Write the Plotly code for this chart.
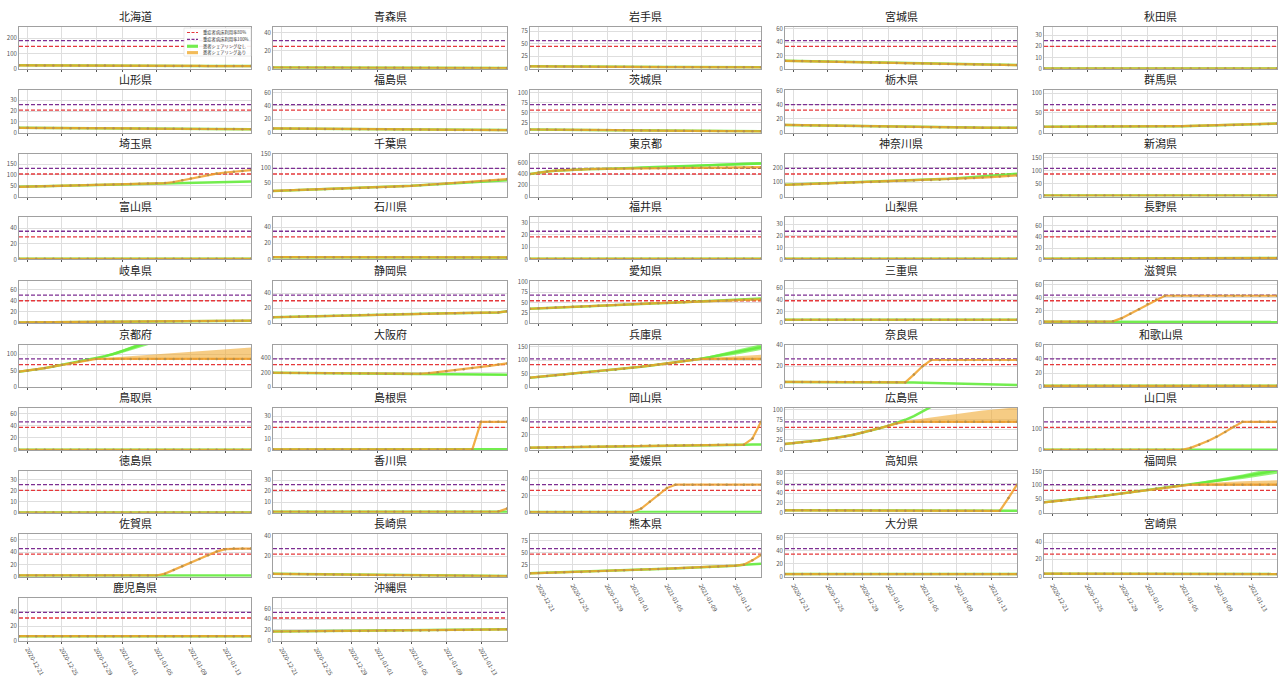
import plotly.graph_objects as go

DATES = ["2020-12-20", "2020-12-21", "2020-12-22", "2020-12-23", "2020-12-24", "2020-12-25",
         "2020-12-26", "2020-12-27", "2020-12-28", "2020-12-29", "2020-12-30", "2020-12-31",
         "2021-01-01", "2021-01-02", "2021-01-03", "2021-01-04", "2021-01-05", "2021-01-06",
         "2021-01-07", "2021-01-08", "2021-01-09", "2021-01-10", "2021-01-11", "2021-01-12",
         "2021-01-13", "2021-01-14", "2021-01-15", "2021-01-16"]
TICK_DATES = ["2020-12-21", "2020-12-25", "2020-12-29", "2021-01-01", "2021-01-05", "2021-01-09", "2021-01-13"]

PREFECTURES = ["北海道", "青森県", "岩手県", "宮城県", "秋田県",
               "山形県", "福島県", "茨城県", "栃木県", "群馬県",
               "埼玉県", "千葉県", "東京都", "神奈川県", "新潟県",
               "富山県", "石川県", "福井県", "山梨県", "長野県",
               "岐阜県", "静岡県", "愛知県", "三重県", "滋賀県",
               "京都府", "大阪府", "兵庫県", "奈良県", "和歌山県",
               "鳥取県", "島根県", "岡山県", "広島県", "山口県",
               "徳島県", "香川県", "愛媛県", "高知県", "福岡県",
               "佐賀県", "長崎県", "熊本県", "大分県", "宮崎県",
               "鹿児島県", "沖縄県"]

# severe-case bed capacity (100% line); the 80% line is 0.8 x this
CAPACITY = [183, 31, 56, 42, 25,
            26, 42, 70, 40, 71,
            130, 100, 500, 197, 109,
            36, 35, 23, 24, 50,
            50, 37.6, 68, 48, 44,
            86, 392, 105, 27, 40,
            46.5, 25, 37, 70, 133,
            25.3, 26, 33, 57, 102,
            46, 27.3, 58.6, 43, 32.5,
            39, 53]

Y_DTICK = [100, 20, 25, 20, 10,
           10, 20, 25, 20, 50,
           50, 50, 200, 100, 50,
           20, 20, 10, 10, 20,
           20, 20, 25, 20, 20,
           50, 200, 50, 20, 20,
           20, 10, 20, 25, 100,
           10, 10, 20, 20, 50,
           20, 20, 25, 20, 20,
           20, 20]

# with bed sharing (orange line with dots)
ORANGE_LINE = {
    "北海道": [23, 23, 22, 22, 22, 22, 21, 21, 21, 21, 21, 20, 20, 20, 20, 20, 19, 19, 19, 19, 19, 19, 18, 18, 18, 18, 18, 18],
    "青森県": [1.5, 1.5, 1.5, 1.5, 1.4, 1.4, 1.4, 1.4, 1.3, 1.3, 1.3, 1.3, 1.2, 1.2, 1.2, 1.2, 1.1, 1.1, 1.1, 1.1, 1.0, 1.0, 1.0, 1.0, 1.0, 0.9, 0.9, 0.9],
    "岩手県": [5, 5, 5, 4.9, 4.8, 4.7, 4.6, 4.5, 4.4, 4.3, 4.2, 4.1, 4, 3.9, 3.8, 3.7, 3.6, 3.5, 3.4, 3.3, 3.2, 3.2, 3.1, 3.1, 3, 3, 3, 3],
    "宮城県": [12, 11.8, 11.6, 11.4, 11.2, 11, 10.7, 10.4, 10.1, 9.8, 9.5, 9.2, 8.9, 8.6, 8.3, 8, 7.8, 7.6, 7.4, 7.2, 7, 6.8, 6.6, 6.4, 6.2, 6, 5.8, 5.6],
    "秋田県": [0.3, 0.3, 0.3, 0.3, 0.3, 0.3, 0.3, 0.3, 0.3, 0.3, 0.3, 0.3, 0.3, 0.3, 0.3, 0.3, 0.3, 0.3, 0.3, 0.3, 0.3, 0.3, 0.3, 0.3, 0.3, 0.3, 0.3, 0.3],
    "山形県": [4.5, 4.5, 4.4, 4.4, 4.3, 4.3, 4.2, 4.2, 4.1, 4.1, 4, 4, 3.9, 3.9, 3.8, 3.8, 3.7, 3.7, 3.6, 3.6, 3.5, 3.5, 3.4, 3.4, 3.3, 3.3, 3.2, 3.2],
    "福島県": [6.3, 6.2, 6.1, 6, 5.9, 5.8, 5.7, 5.6, 5.5, 5.4, 5.3, 5.2, 5.1, 5, 4.9, 4.8, 4.7, 4.6, 4.5, 4.4, 4.3, 4.2, 4.1, 4.1, 4, 4, 3.9, 3.9],
    "茨城県": [8, 8, 7.8, 7.6, 7.4, 7.2, 7, 6.8, 6.6, 6.4, 6.2, 6, 5.8, 5.6, 5.4, 5.2, 5, 4.8, 4.6, 4.4, 4.2, 4, 3.9, 3.8, 3.7, 3.6, 3.5, 3.4],
    "栃木県": [11, 10.8, 10.6, 10.4, 10.2, 10, 9.8, 9.6, 9.4, 9.2, 9, 8.8, 8.6, 8.4, 8.2, 8, 7.9, 7.8, 7.7, 7.6, 7.5, 7.4, 7.3, 7.2, 7.1, 7, 7, 7],
    "群馬県": [15, 15, 15, 15, 15.5, 15.5, 16, 16, 16, 16, 16, 16, 16, 16, 16, 16, 16.5, 17, 17.5, 18, 18.5, 19, 19.5, 20, 21, 21.5, 22, 23],
    "埼玉県": [45, 46, 47, 48, 49, 50, 51, 52, 53, 54, 55, 56, 57, 58, 59, 60, 61, 62, 67, 75, 83, 91, 99, 106, 111, 115, 118, 122],
    "千葉県": [20, 21, 22, 23, 24, 25, 26, 27, 28, 29, 30, 31, 32, 33, 35, 37, 38, 40, 42, 44, 46, 48, 50, 52, 54, 57, 59, 62],
    "東京都": [400, 425, 445, 460, 470, 478, 483, 487, 490, 492, 494, 496, 498, 500, 502, 504, 506, 508, 510, 512, 514, 515, 516, 517, 518, 519, 520, 520],
    "神奈川県": [82, 84, 86, 88, 90, 92, 94, 96, 98, 100, 102, 104, 106, 108, 110, 112, 114, 116, 118, 121, 124, 127, 130, 133, 136, 140, 144, 148],
    "新潟県": [4, 4, 4, 4, 4, 4, 4, 4, 4, 4, 4, 4, 4, 4, 4, 4, 4, 4, 4, 4, 4, 4, 4, 4, 4, 4, 4, 4],
    "富山県": [0.8, 0.8, 0.8, 0.8, 0.8, 0.8, 0.8, 0.8, 0.8, 0.8, 0.8, 0.8, 0.8, 0.8, 0.8, 0.8, 0.8, 0.8, 0.8, 0.8, 0.8, 0.8, 0.8, 0.8, 0.8, 0.8, 0.8, 0.8],
    "石川県": [2.8, 2.8, 2.8, 2.8, 2.8, 2.8, 2.8, 2.7, 2.7, 2.7, 2.7, 2.7, 2.7, 2.7, 2.6, 2.6, 2.6, 2.6, 2.6, 2.6, 2.6, 2.5, 2.5, 2.5, 2.5, 2.5, 2.5, 2.5],
    "福井県": [0.5, 0.5, 0.5, 0.5, 0.5, 0.5, 0.5, 0.5, 0.5, 0.5, 0.5, 0.5, 0.5, 0.5, 0.5, 0.5, 0.5, 0.5, 0.5, 0.5, 0.5, 0.5, 0.5, 0.5, 0.5, 0.5, 0.5, 0.5],
    "山梨県": [0.5, 0.5, 0.5, 0.5, 0.5, 0.5, 0.5, 0.5, 0.5, 0.5, 0.5, 0.5, 0.5, 0.5, 0.5, 0.5, 0.5, 0.5, 0.5, 0.5, 0.5, 0.5, 0.5, 0.5, 0.5, 0.5, 0.5, 0.5],
    "長野県": [1, 1, 1, 1, 1.2, 1.2, 1.2, 1.3, 1.3, 1.4, 1.4, 1.5, 1.5, 1.6, 1.6, 1.7, 1.7, 1.8, 1.8, 1.9, 1.9, 2, 2, 2.1, 2.2, 2.3, 2.4, 2.5],
    "岐阜県": [1.5, 1.6, 1.7, 1.8, 1.9, 2, 2.1, 2.2, 2.3, 2.4, 2.5, 2.6, 2.7, 2.8, 2.9, 3, 3.1, 3.2, 3.3, 3.4, 3.5, 3.6, 3.7, 3.8, 4, 4.1, 4.3, 4.5],
    "静岡県": [8, 8.3, 8.6, 8.9, 9.2, 9.5, 9.8, 10, 10.3, 10.6, 10.9, 11.2, 11.5, 11.7, 12, 12.2, 12.4, 12.6, 12.8, 13, 13.2, 13.4, 13.6, 13.8, 14, 14.2, 14.5, 16],
    "愛知県": [35, 36, 37, 38, 39, 40, 40.5, 41, 42, 43, 44, 45, 46, 47, 48, 48.5, 49, 50, 51, 52, 53, 53.5, 54, 55, 56, 56.5, 57, 57.5],
    "三重県": [6, 6, 6, 6, 6, 6, 6, 6, 6, 6, 6, 6, 6, 6, 6, 6, 6, 6, 6, 6, 6, 6, 6, 6, 6, 6, 6, 6],
    "滋賀県": [2.5, 2.5, 2.5, 2.5, 2.5, 2.5, 2.5, 2.5, 3, 8, 15, 22, 30, 37, 43, 43, 43, 43, 43, 43, 43, 43, 43, 43, 43, 43, 43, 43],
    "京都府": [47, 50, 54, 58, 63, 68, 73, 78, 83, 86, 86, 86, 86, 86, 86, 86, 86, 86, 86, 86, 86, 86, 86, 86, 86, 86, 86, 86],
    "大阪府": [200, 199, 198, 197, 196, 195, 194, 193, 192, 191, 190, 189, 188, 187, 186, 185, 184, 186, 195, 208, 222, 236, 250, 265, 280, 296, 313, 330],
    "兵庫県": [35, 38, 41, 44, 47, 50, 53, 56, 59, 62, 65, 68, 72, 76, 80, 84, 88, 92, 97, 101, 105, 105, 105, 105, 105, 105, 105, 105],
    "奈良県": [5, 5, 5, 5, 5, 5, 5, 5, 5, 5, 4.9, 4.8, 4.7, 4.6, 4.5, 12, 20, 26, 26, 26, 26, 26, 26, 26, 26, 26, 26, 26],
    "和歌山県": [1.8, 1.8, 1.8, 1.8, 1.8, 1.8, 1.8, 1.8, 1.8, 1.8, 1.8, 1.8, 1.8, 1.8, 1.8, 1.8, 1.8, 1.8, 1.8, 1.8, 1.8, 1.8, 1.8, 1.8, 1.8, 1.8, 1.8, 1.8],
    "鳥取県": [0.3, 0.3, 0.3, 0.3, 0.3, 0.3, 0.3, 0.3, 0.3, 0.3, 0.3, 0.3, 0.3, 0.3, 0.3, 0.3, 0.3, 0.3, 0.3, 0.3, 0.3, 0.3, 0.3, 0.3, 0.3, 0.3, 0.3, 0.3],
    "島根県": [0.5, 0.5, 0.5, 0.5, 0.5, 0.5, 0.5, 0.5, 0.5, 0.5, 0.5, 0.5, 0.5, 0.5, 0.5, 0.5, 0.5, 0.5, 0.5, 0.5, 0.5, 0.5, 0.5, 0.5, 25, 25, 25, 25],
    "岡山県": [3, 3.2, 3.4, 3.6, 3.8, 4, 4.2, 4.4, 4.6, 4.8, 5, 5.2, 5.4, 5.6, 5.8, 6, 6.1, 6.2, 6.3, 6.4, 6.5, 6.6, 6.7, 6.8, 6.9, 7, 15, 37],
    "広島県": [15, 17, 19, 21, 24, 27, 30, 34, 38, 43, 48, 54, 60, 66, 70, 70, 70, 70, 70, 70, 70, 70, 70, 70, 70, 70, 70, 70],
    "山口県": [1, 1, 1, 1, 1, 1, 1, 1, 1, 1, 1, 1, 1, 1, 1, 1, 1, 10, 25, 42, 62, 85, 110, 133, 133, 133, 133, 133],
    "徳島県": [0.2, 0.2, 0.2, 0.2, 0.2, 0.2, 0.2, 0.2, 0.2, 0.2, 0.2, 0.2, 0.2, 0.2, 0.2, 0.2, 0.2, 0.2, 0.2, 0.2, 0.2, 0.2, 0.2, 0.2, 0.2, 0.2, 0.2, 0.2],
    "香川県": [1, 1, 1, 1, 1, 1, 1, 1, 1, 1, 1, 1, 1, 1, 1, 1, 1, 1, 1, 1, 1, 1, 1, 1, 1, 1, 1.2, 4],
    "愛媛県": [1, 1, 1, 1, 1, 1, 1, 1, 1, 1, 1, 1, 1, 5, 13, 21, 29, 33, 33, 33, 33, 33, 33, 33, 33, 33, 33, 33],
    "高知県": [5, 5, 5, 5, 5, 5, 4.8, 4.8, 4.8, 4.6, 4.6, 4.6, 4.4, 4.4, 4.4, 4.2, 4.2, 4.2, 4, 4, 4, 4, 4, 4, 4, 4, 30, 57],
    "福岡県": [38, 41, 44, 47, 51, 54, 58, 62, 66, 70, 74, 79, 84, 88, 92, 96, 100, 102, 102, 102, 102, 102, 102, 102, 102, 102, 102, 102],
    "佐賀県": [2, 2, 2, 2, 2, 2, 2, 2, 2, 2, 2, 2, 2, 2, 2, 2, 2, 5, 11, 17, 23, 29, 35, 41, 45, 46, 46, 46],
    "長崎県": [2.8, 2.7, 2.6, 2.5, 2.4, 2.3, 2.2, 2.1, 2, 1.9, 1.8, 1.7, 1.6, 1.5, 1.4, 1.3, 1.2, 1.1, 1, 1, 0.9, 0.9, 0.8, 0.8, 0.7, 0.7, 0.6, 0.6],
    "熊本県": [7, 7.5, 8, 8.5, 9, 9.5, 10, 10.7, 11.4, 12, 12.7, 13.4, 14, 14.7, 15.4, 16, 16.7, 17.4, 18, 18.8, 19.6, 20.4, 21.2, 22, 23, 25, 34, 45],
    "大分県": [4, 4, 4, 4, 4, 4, 4, 4, 4, 4, 4, 4, 4, 4, 4, 4, 4, 4, 4, 4, 4, 4, 4, 4, 4, 4, 4, 4],
    "宮崎県": [3.5, 3.5, 3.5, 3.5, 3.5, 3.5, 3.5, 3.4, 3.4, 3.4, 3.4, 3.3, 3.3, 3.3, 3.3, 3.2, 3.2, 3.2, 3.2, 3.1, 3.1, 3.1, 3.1, 3, 3, 3, 3, 3],
    "鹿児島県": [6, 6, 6, 6, 6, 6, 6, 6, 6, 6, 6, 6, 6, 6, 6, 6, 6, 6, 6, 6, 6, 6, 6, 6, 6, 6, 6, 6],
    "沖縄県": [17, 17.1, 17.2, 17.3, 17.4, 17.5, 17.6, 17.7, 17.8, 17.9, 18, 18.1, 18.2, 18.3, 18.4, 18.5, 18.7, 18.9, 19.1, 19.3, 19.5, 19.7, 19.9, 20.1, 20.3, 20.5, 20.7, 21],
}

# without bed sharing (green) where it differs from the orange line
GREEN_LINE = {
    "埼玉県": [45, 46, 47, 48, 49, 50, 51, 52, 53, 54, 55, 56, 57, 58, 59, 60, 61, 62, 63, 64, 65, 66, 67, 68, 68.5, 69, 70, 70],
    "千葉県": [20, 21, 22, 23, 24, 25, 26, 27, 28, 29, 30, 31, 32, 33, 35, 37, 38, 40, 42, 44, 46, 47.5, 49, 50.5, 52, 54, 56, 58],
    "東京都": [400, 425, 445, 460, 470, 478, 483, 487, 490, 492, 497, 502, 508, 514, 520, 526, 532, 538, 544, 550, 556, 561, 566, 571, 576, 580, 584, 588],
    "神奈川県": [82, 84, 86, 88, 90, 92, 94, 96, 98, 100, 102, 104, 106, 108, 110, 112, 115, 118, 121, 124, 128, 132, 136, 140, 144, 149, 154, 159],
    "愛知県": [35, 36, 37, 38, 39, 40, 40.5, 41, 42, 43, 44, 45, 46, 47, 48, 48.5, 49, 50, 51, 52, 53, 54, 55, 56, 57, 58, 59, 60],
    "滋賀県": [2.5, 2.5, 2.5, 2.5, 2.5, 2.5, 2.5, 2.5, 2.5, 2.5, 2.5, 2.5, 2.5, 2.5, 2.5, 2.4, 2.4, 2.4, 2.3, 2.3, 2.3, 2.2, 2.2, 2.2, 2.1, 2.1, 2, 2],
    "京都府": [47, 50, 54, 58, 63, 68, 73, 78, 83, 88, 94, 101, 109, 118, 127, 136, 145, 154, 163, 172, 181, 190, 199, 208, 217, 226, 235, 244],
    "大阪府": [200, 199, 198, 197, 196, 195, 194, 193, 192, 191, 190, 189, 188, 187, 186, 185, 184, 182, 181, 180, 179, 178, 177, 176, 175, 174, 173, 172],
    "兵庫県": [35, 38, 41, 44, 47, 50, 53, 56, 59, 62, 65, 68, 72, 76, 80, 84, 88, 92, 97, 101, 106, 111, 117, 123, 129, 135, 142, 149],
    "奈良県": [5, 5, 5, 5, 5, 5, 5, 5, 5, 5, 4.9, 4.8, 4.7, 4.6, 4.5, 4.3, 4.1, 3.9, 3.7, 3.5, 3.3, 3.1, 2.9, 2.7, 2.5, 2.3, 2.1, 2],
    "島根県": [0.5, 0.5, 0.5, 0.5, 0.5, 0.5, 0.5, 0.5, 0.5, 0.5, 0.5, 0.5, 0.5, 0.5, 0.5, 0.5, 0.5, 0.5, 0.5, 0.5, 0.5, 0.5, 0.5, 0.5, 0.6, 0.6, 0.6, 0.6],
    "岡山県": [3, 3.2, 3.4, 3.6, 3.8, 4, 4.2, 4.4, 4.6, 4.8, 5, 5.2, 5.4, 5.6, 5.8, 6, 6.1, 6.2, 6.3, 6.4, 6.5, 6.6, 6.7, 6.8, 6.9, 7, 7.1, 7.2],
    "広島県": [15, 17, 19, 21, 24, 27, 30, 34, 38, 43, 48, 54, 60, 67, 75, 84, 94, 105, 116, 128, 140, 152, 164, 176, 188, 200, 212, 224],
    "山口県": [1, 1, 1, 1, 1, 1, 1, 1, 1, 1, 1, 1, 1, 1, 1, 1, 1, 1, 1, 1, 1, 1, 1, 1, 1, 1, 1, 1],
    "香川県": [1, 1, 1, 1, 1, 1, 1, 1, 1, 1, 1, 1, 1, 1, 1, 1, 1, 1, 1, 1, 1, 1, 1, 1, 1, 1, 1, 1],
    "愛媛県": [1, 1, 1, 1, 1, 1, 1, 1, 1, 1, 1, 1, 1, 1, 1, 1, 1, 1, 1, 1, 1, 1, 1, 1, 1, 1, 1, 1],
    "高知県": [5, 5, 5, 5, 5, 5, 4.8, 4.8, 4.8, 4.6, 4.6, 4.6, 4.4, 4.4, 4.4, 4.2, 4.2, 4.2, 4, 4, 4, 4, 4, 4, 4, 4, 4, 4],
    "福岡県": [38, 41, 44, 47, 51, 54, 58, 62, 66, 70, 74, 79, 84, 88, 92, 96, 100, 104, 108, 112, 116, 121, 126, 131, 136, 142, 148, 154],
    "佐賀県": [2, 2, 2, 2, 2, 2, 2, 2, 2, 2, 2, 2, 2, 2, 2, 2, 2, 2, 2, 2, 2, 2, 2, 2, 2, 2, 2, 2],
    "熊本県": [7, 7.5, 8, 8.5, 9, 9.5, 10, 10.7, 11.4, 12, 12.7, 13.4, 14, 14.7, 15.4, 16, 16.7, 17.4, 18, 18.8, 19.6, 20.4, 21.2, 22, 23, 25, 26, 27],
}

# uncertainty bands (low / high) where they are visibly wide
ORANGE_BAND_LO = {
    "京都府": [47, 50, 54, 58, 63, 68, 73, 78, 83, 85, 85, 85, 85, 85, 85, 85, 85, 85, 85, 85, 85, 85, 85, 85, 85, 85, 85, 85],
    "兵庫県": [35, 38, 41, 44, 47, 50, 53, 56, 59, 62, 65, 68, 72, 76, 80, 84, 88, 92, 97, 101, 103, 103, 103, 103, 103, 103, 103, 103],
    "広島県": [15, 17, 19, 21, 24, 27, 30, 34, 38, 43, 48, 54, 60, 66, 69, 69, 69, 69, 69, 69, 69, 69, 69, 69, 69, 69, 69, 69],
    "福岡県": [38, 41, 44, 47, 51, 54, 58, 62, 66, 70, 74, 79, 84, 88, 92, 96, 99, 99, 99, 99, 99, 99, 99, 99, 99, 99, 99, 99],
    "東京都": [400, 425, 445, 460, 470, 478, 483, 487, 488, 489, 490, 491, 492, 493, 494, 495, 496, 497, 498, 499, 500, 500, 500, 500, 500, 500, 500, 500],
}
ORANGE_BAND_HI = {
    "京都府": [47, 50, 54, 58, 63, 68, 73, 78, 83, 87, 89, 91, 93, 95, 97, 99, 101, 103, 105, 107, 109, 111, 113, 115, 117, 119, 120, 121],
    "兵庫県": [35, 38, 41, 44, 47, 50, 53, 56, 59, 62, 65, 68, 72, 76, 80, 84, 88, 92, 97, 101, 107, 109, 111, 113, 115, 117, 119, 121],
    "広島県": [15, 17, 19, 21, 24, 27, 30, 34, 38, 43, 48, 54, 60, 67, 72, 75, 78, 81, 84, 87, 90, 93, 96, 98, 100, 102, 104, 106],
    "福岡県": [38, 41, 44, 47, 51, 54, 58, 62, 66, 70, 74, 79, 84, 88, 92, 96, 101, 104, 106, 108, 110, 112, 113, 114, 115, 116, 117, 118],
    "東京都": [400, 425, 445, 460, 470, 478, 483, 487, 491, 494, 497, 500, 503, 506, 509, 512, 515, 518, 521, 524, 527, 530, 532, 534, 536, 538, 540, 542],
}
GREEN_BAND_LO = {
    "京都府": [47, 50, 54, 58, 63, 68, 73, 78, 82, 86, 91, 97, 104, 112, 120, 128, 136, 144, 152, 160, 168, 176, 184, 192, 200, 208, 216, 224],
    "福岡県": [38, 41, 44, 47, 51, 54, 58, 62, 66, 70, 74, 79, 84, 88, 92, 96, 99, 102, 105, 108, 111, 115, 119, 123, 127, 132, 137, 142],
    "東京都": [400, 425, 445, 460, 470, 478, 483, 487, 490, 492, 495, 499, 503, 507, 511, 515, 519, 523, 527, 531, 535, 539, 543, 547, 551, 555, 559, 563],
    "大阪府": [200, 199, 198, 197, 196, 195, 194, 193, 192, 191, 190, 189, 188, 187, 186, 184, 182, 179, 177, 175, 173, 171, 169, 167, 165, 163, 161, 160],
    "兵庫県": [35, 38, 41, 44, 47, 50, 53, 56, 59, 62, 65, 68, 72, 76, 80, 84, 88, 91, 95, 98, 102, 106, 111, 116, 121, 126, 132, 138],
}
GREEN_BAND_HI = {
    "京都府": [47, 50, 54, 58, 63, 68, 73, 78, 84, 90, 97, 105, 114, 124, 134, 144, 154, 164, 174, 184, 194, 204, 214, 224, 234, 244, 254, 264],
    "福岡県": [38, 41, 44, 47, 51, 54, 58, 62, 66, 70, 74, 79, 84, 88, 92, 96, 101, 106, 111, 116, 121, 127, 133, 139, 145, 152, 159, 166],
    "東京都": [400, 425, 445, 460, 470, 478, 483, 487, 490, 492, 499, 505, 513, 521, 529, 537, 545, 553, 561, 569, 577, 583, 589, 595, 601, 605, 609, 613],
    "大阪府": [200, 199, 198, 197, 196, 195, 194, 193, 192, 191, 190, 189, 188, 187, 186, 186, 186, 185, 185, 185, 185, 185, 185, 185, 185, 185, 185, 184],
    "兵庫県": [35, 38, 41, 44, 47, 50, 53, 56, 59, 62, 65, 68, 72, 76, 80, 84, 88, 93, 99, 104, 110, 116, 123, 130, 137, 144, 152, 160],
}

LEGEND_NAMES = ["重症者病床利用率80%", "重症者病床利用率100%", "患者シェアリングなし", "患者シェアリングあり"]

RED = "#e5383b"
PURPLE = "#7d2e92"
GREEN_LINE_C = "rgba(100,235,60,0.9)"
GREEN_FILL = "rgba(110,240,70,0.75)"
ORANGE_C = "rgba(240,160,40,0.85)"
ORANGE_FILL = "rgba(240,170,50,0.6)"
DOT_C = "#b8904a"
GRID = "#dedede"
FRAME = "#a0a0a0"
FONT = "Noto Sans CJK JP, Noto Sans, DejaVu Sans, sans-serif"

W, H = 1282, 677
COL_X = [(19, 251), (273, 507), (530, 761), (785, 1017), (1044, 1277)]
ROW_TOP = [22, 87, 152, 216, 281, 346, 410, 474, 539, 604]
AX_H = 43

fig = go.Figure()
layout = dict(
    width=W, height=H, margin=dict(l=0, r=0, t=0, b=0),
    paper_bgcolor="white", plot_bgcolor="white",
    font=dict(family=FONT, color="#333"),
    showlegend=False,
)
annotations = []
shapes = []

for i, pref in enumerate(PREFECTURES):
    n = i + 1
    r, c = divmod(i, 5)
    xs = "x" if n == 1 else f"x{n}"
    ys = "y" if n == 1 else f"y{n}"
    cap = CAPACITY[i]
    orange = ORANGE_LINE[pref]
    green = GREEN_LINE.get(pref, orange)

    # 80% and 100% lines
    fig.add_trace(go.Scatter(x=[DATES[0], DATES[-1]], y=[0.8 * cap, 0.8 * cap], mode="lines",
                             line=dict(color=RED, width=1.3, dash="4px,2px"), name=LEGEND_NAMES[0],
                             xaxis=xs, yaxis=ys, hoverinfo="skip"))
    fig.add_trace(go.Scatter(x=[DATES[0], DATES[-1]], y=[cap, cap], mode="lines",
                             line=dict(color=PURPLE, width=1.3, dash="4px,2px"), name=LEGEND_NAMES[1],
                             xaxis=xs, yaxis=ys, hoverinfo="skip"))

    # green (no sharing)
    if pref in GREEN_BAND_LO:
        fig.add_trace(go.Scatter(x=DATES, y=GREEN_BAND_LO[pref], mode="lines", line=dict(width=0),
                                 xaxis=xs, yaxis=ys, hoverinfo="skip"))
        fig.add_trace(go.Scatter(x=DATES, y=GREEN_BAND_HI[pref], mode="lines", line=dict(width=0),
                                 fill="tonexty", fillcolor=GREEN_FILL,
                                 xaxis=xs, yaxis=ys, hoverinfo="skip"))
    fig.add_trace(go.Scatter(x=DATES, y=green, mode="lines", line=dict(color=GREEN_LINE_C, width=2.5),
                             name=LEGEND_NAMES[2], xaxis=xs, yaxis=ys, hoverinfo="skip"))

    # orange (with sharing)
    if pref in ORANGE_BAND_LO:
        fig.add_trace(go.Scatter(x=DATES, y=ORANGE_BAND_LO[pref], mode="lines", line=dict(width=0),
                                 xaxis=xs, yaxis=ys, hoverinfo="skip"))
        fig.add_trace(go.Scatter(x=DATES, y=ORANGE_BAND_HI[pref], mode="lines", line=dict(width=0),
                                 fill="tonexty", fillcolor=ORANGE_FILL,
                                 xaxis=xs, yaxis=ys, hoverinfo="skip"))
    fig.add_trace(go.Scatter(x=DATES, y=orange, mode="lines+markers",
                             line=dict(color=ORANGE_C, width=2.2),
                             marker=dict(size=2.5, color=DOT_C),
                             name=LEGEND_NAMES[3], xaxis=xs, yaxis=ys, hoverinfo="skip"))

    x0, x1 = COL_X[c]
    top = ROW_TOP[r]
    bottom_row = 9 if c < 2 else 8
    layout["xaxis" if n == 1 else f"xaxis{n}"] = dict(
        domain=[x0 / W, x1 / W], anchor=ys, type="date",
        range=[DATES[0], DATES[-1]], tickmode="array", tickvals=TICK_DATES, ticktext=TICK_DATES,
        showticklabels=(r == bottom_row), tickangle=60,
        tickfont=dict(size=6, color="#555"),
        showgrid=True, gridcolor=GRID, gridwidth=1,
        showline=True, mirror=True, linecolor=FRAME, linewidth=1,
        ticks="outside", ticklen=2, tickcolor="#555", zeroline=False,
    )
    layout["yaxis" if n == 1 else f"yaxis{n}"] = dict(
        domain=[1 - (top + AX_H) / H, 1 - top / H], anchor=xs,
        range=[0, 1.5 * cap], tick0=0, dtick=Y_DTICK[i],
        tickfont=dict(size=6, color="#555"),
        showgrid=True, gridcolor=GRID, gridwidth=1,
        showline=True, mirror=True, linecolor=FRAME, linewidth=1,
        ticks="", zeroline=False,
    )
    annotations.append(dict(text=pref, x=(x0 + x1) / 2 / W, y=1 - (top - 1) / H,
                            xref="paper", yref="paper", xanchor="center", yanchor="bottom",
                            showarrow=False, font=dict(size=11, color="#222", family=FONT)))

# legend drawn inside the first panel (北海道)
def px(x):
    return x / W

def py(y):
    return 1 - y / H

shapes.append(dict(type="rect", xref="paper", yref="paper", x0=px(184), x1=px(251), y0=py(52), y1=py(23.5),
                   fillcolor="rgba(255,255,255,0.9)", line=dict(color="#dcdcdc", width=0.6), layer="above"))
ROW_Y = [28, 35, 42, 48.5]
SYMBOLS = [("line", RED), ("line", PURPLE), ("box", "rgba(100,235,60,0.9)"), ("box", "rgba(240,175,60,0.85)")]
for k, (kind, col) in enumerate(SYMBOLS):
    yy = ROW_Y[k]
    if kind == "line":
        shapes.append(dict(type="line", xref="paper", yref="paper", x0=px(187), x1=px(198), y0=py(yy), y1=py(yy),
                           line=dict(color=col, width=1.1, dash="3px,1.5px"), layer="above"))
    else:
        shapes.append(dict(type="rect", xref="paper", yref="paper", x0=px(187), x1=px(198),
                           y0=py(yy + 1.6), y1=py(yy - 1.6), fillcolor=col, line=dict(width=0), layer="above"))
    annotations.append(dict(text=LEGEND_NAMES[k], x=px(200.5), y=py(yy), xref="paper", yref="paper",
                            xanchor="left", yanchor="middle", showarrow=False,
                            font=dict(size=4.3, color="#333", family=FONT)))

layout["annotations"] = annotations
layout["shapes"] = shapes
fig.update_layout(**layout)
fig.write_html("out.html", config={"displayModeBar": False},
               post_script="document.body.style.margin='0';")
